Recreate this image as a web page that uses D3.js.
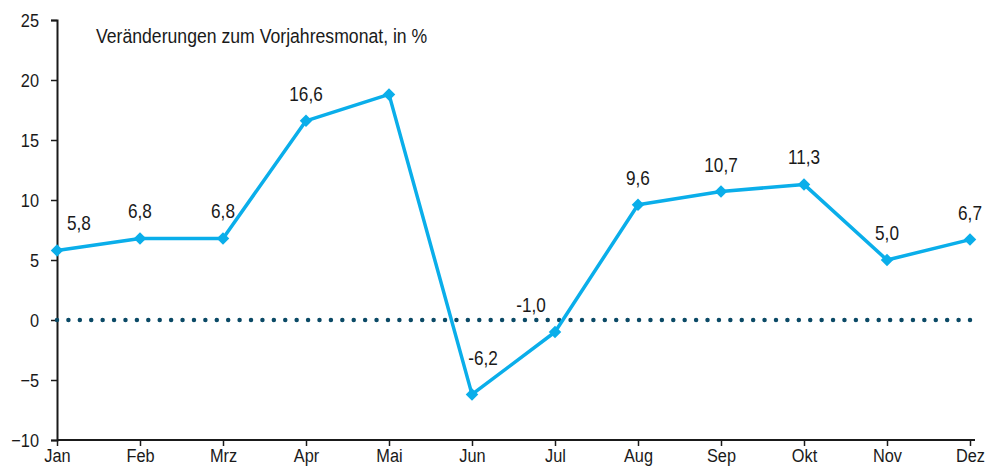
<!DOCTYPE html>
<meta charset="utf-8">
<script src="https://d3js.org/d3.v7.min.js"></script>
<style>
  body { margin: 0; background: #fff; }
  text { font-family: "Liberation Sans Narrow", "Liberation Sans", Arial, sans-serif; fill: #1a1a1a; }
</style>
<svg id="chart" width="989" height="468"></svg>
<script>
// months and year-on-year change, in %
var months = ["Jan", "Feb", "Mrz", "Apr", "Mai", "Jun", "Jul", "Aug", "Sep", "Okt", "Nov", "Dez"];
var values = [5.8, 6.8, 6.8, 16.6, 18.8, -6.2, -1.0, 9.6, 10.7, 11.3, 5.0, 6.7];
var showLabel = [true, true, true, true, false, true, true, true, true, true, true, true];
var yTicks = [-10, -5, 0, 5, 10, 15, 20, 25];
var title = "Veränderungen zum Vorjahresmonat, in %";

var svg = d3.select("#chart");

var x = d3.scalePoint().domain(months).range([57, 970]);
var y = d3.scaleLinear().domain([-10, 25]).range([440, 20]);

// squeeze text horizontally around its anchor, to get a condensed look
function narrow(sel, k) {
  sel.attr("transform", function() {
    var ax = +(this.getAttribute("x") || 0);
    return "translate(" + ax + ",0) scale(" + k + ",1) translate(" + (-ax) + ",0)";
  });
}

// y axis
var yAxis = svg.append("g")
  .attr("transform", "translate(57,0)")
  .call(d3.axisLeft(y).tickValues(yTicks).tickSize(6).tickPadding(12).tickFormat(d3.format("d")));
yAxis.select(".domain").attr("stroke", "#1a1a1a").attr("stroke-width", 2);
yAxis.selectAll(".tick line").attr("stroke", "#1a1a1a").attr("stroke-width", 1.5);
yAxis.selectAll("text").style("font-size", "19px").attr("fill", "#1a1a1a").call(narrow, 0.86);

// x axis
var xAxis = svg.append("g")
  .attr("transform", "translate(0,440)")
  .call(d3.axisBottom(x).tickSizeInner(6).tickSizeOuter(0).tickPadding(3));
xAxis.select(".domain").attr("stroke", "#1a1a1a").attr("stroke-width", 2)
  .attr("d", "M57,0H975");
xAxis.selectAll(".tick line").attr("stroke", "#1a1a1a").attr("stroke-width", 1.5);
xAxis.selectAll("text").style("font-size", "19px").attr("fill", "#1a1a1a").call(narrow, 0.86);

// zero line, dotted
var zeroLen = x("Dez") - x("Jan");
svg.append("line")
  .attr("x1", x("Jan")).attr("x2", x("Dez") + 1)
  .attr("y1", y(0)).attr("y2", y(0))
  .attr("stroke", "#0b4a66")
  .attr("stroke-width", 4.5)
  .attr("stroke-linecap", "round")
  .attr("stroke-dasharray", "0," + (zeroLen / 80));

// title
svg.append("text")
  .attr("x", 96).attr("y", 43)
  .style("font-size", "19.5px")
  .text(title)
  .call(narrow, 0.905);

var data = months.map(function(m, i) { return { m: m, v: values[i], lab: showLabel[i] }; });

// series line
svg.append("path")
  .datum(data)
  .attr("fill", "none")
  .attr("stroke", "#0aaeea")
  .attr("stroke-width", 3.5)
  .attr("stroke-linejoin", "round")
  .attr("d", d3.line().x(function(d) { return x(d.m); }).y(function(d) { return y(d.v); }));

// diamond markers
svg.selectAll(".marker")
  .data(data)
  .enter()
  .append("path")
    .attr("class", "marker")
    .attr("d", d3.symbol().type(d3.symbolSquare).size(78))
    .attr("transform", function(d) { return "translate(" + x(d.m) + "," + y(d.v) + ") rotate(45)"; })
    .attr("fill", "#0aaeea");

// value labels
var fmt = function(v) { return v.toFixed(1).replace(".", ","); };
svg.selectAll(".val")
  .data(data.filter(function(d) { return d.lab; }))
  .enter()
  .append("text")
    .attr("class", "val")
    .attr("text-anchor", "middle")
    .style("font-size", "20px")
    .attr("x", function(d) {
      if (d.m === "Jan") return x(d.m) + 22;
      if (d.m === "Jun") return x(d.m) + 11;
      if (d.m === "Jul") return x(d.m) - 24;
      return x(d.m);
    })
    .attr("y", function(d) {
      if (d.m === "Jun") return y(d.v) - 29;
      return y(d.v) - 20;
    })
    .text(function(d) { return fmt(d.v); })
    .call(narrow, 0.86);
</script>
